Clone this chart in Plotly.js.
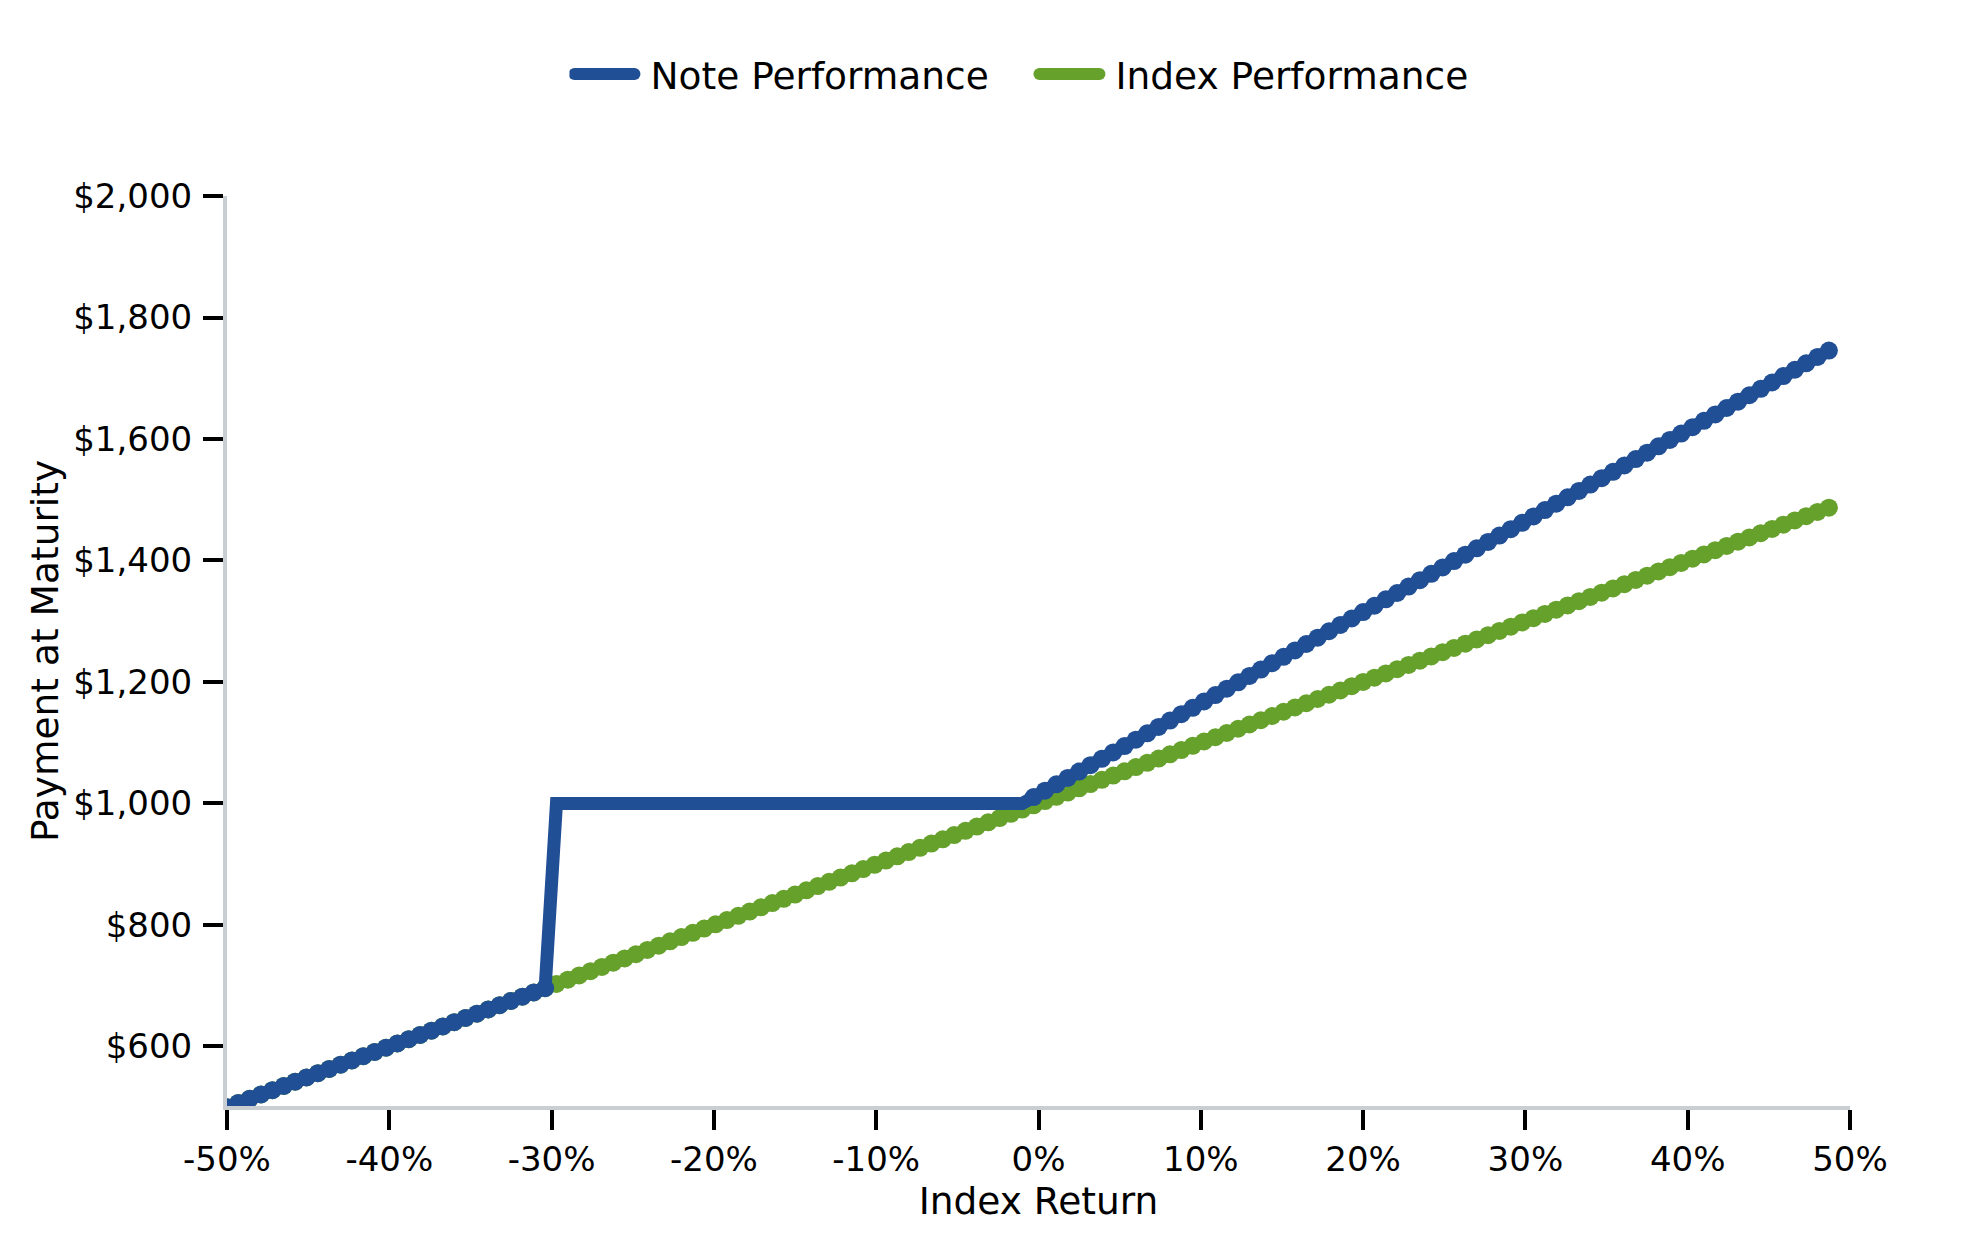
<!DOCTYPE html>
<html>
<head>
<meta charset="utf-8">
<script src="https://cdn.plot.ly/plotly-3.0.1.min.js"></script>
<style>
  html, body { margin: 0; padding: 0; background: #ffffff; }
  #chart { width: 1979px; height: 1250px; }
  .legendlines path { stroke-linecap: round; stroke-width: 12px !important; }
  .legendtext { transform: translateX(11px); }
</style>
</head>
<body>
<div id="chart"></div>
<script>
  // ---------- Data ----------
  // index return grid shared by both series, in %
  const indexReturn = [
    -50, -49.3, -48.6, -47.9, -47.2, -46.5, -45.8, -45.1, -44.4, -43.7,
    -43, -42.3, -41.6, -40.9, -40.2, -39.5, -38.8, -38.1, -37.4, -36.7,
    -36, -35.3, -34.6, -33.9, -33.2, -32.5, -31.8, -31.1, -30.4, -29.7,
    -29, -28.3, -27.6, -26.9, -26.2, -25.5, -24.8, -24.1, -23.4, -22.7,
    -22, -21.3, -20.6, -19.9, -19.2, -18.5, -17.8, -17.1, -16.4, -15.7,
    -15, -14.3, -13.6, -12.9, -12.2, -11.5, -10.8, -10.1, -9.4, -8.7,
    -8, -7.3, -6.6, -5.9, -5.2, -4.5, -3.8, -3.1, -2.4, -1.7,
    -1, -0.3, 0.4, 1.1, 1.8, 2.5, 3.2, 3.9, 4.6, 5.3,
    6, 6.7, 7.4, 8.1, 8.8, 9.5, 10.2, 10.9, 11.6, 12.3,
    13, 13.7, 14.4, 15.1, 15.8, 16.5, 17.2, 17.9, 18.6, 19.3,
    20, 20.7, 21.4, 22.1, 22.8, 23.5, 24.2, 24.9, 25.6, 26.3,
    27, 27.7, 28.4, 29.1, 29.8, 30.5, 31.2, 31.9, 32.6, 33.3,
    34, 34.7, 35.4, 36.1, 36.8, 37.5, 38.2, 38.9, 39.6, 40.3,
    41, 41.7, 42.4, 43.1, 43.8, 44.5, 45.2, 45.9, 46.6, 47.3,
    48, 48.7
  ];
  const indexPayment = [
    500, 507, 514, 521, 528, 535, 542, 549, 556, 563,
    570, 577, 584, 591, 598, 605, 612, 619, 626, 633,
    640, 647, 654, 661, 668, 675, 682, 689, 696, 703,
    710, 717, 724, 731, 738, 745, 752, 759, 766, 773,
    780, 787, 794, 801, 808, 815, 822, 829, 836, 843,
    850, 857, 864, 871, 878, 885, 892, 899, 906, 913,
    920, 927, 934, 941, 948, 955, 962, 969, 976, 983,
    990, 997, 1004, 1011, 1018, 1025, 1032, 1039, 1046, 1053,
    1060, 1067, 1074, 1081, 1088, 1095, 1102, 1109, 1116, 1123,
    1130, 1137, 1144, 1151, 1158, 1165, 1172, 1179, 1186, 1193,
    1200, 1207, 1214, 1221, 1228, 1235, 1242, 1249, 1256, 1263,
    1270, 1277, 1284, 1291, 1298, 1305, 1312, 1319, 1326, 1333,
    1340, 1347, 1354, 1361, 1368, 1375, 1382, 1389, 1396, 1403,
    1410, 1417, 1424, 1431, 1438, 1445, 1452, 1459, 1466, 1473,
    1480, 1487
  ];
  const notePayment = [
    500, 507, 514, 521, 528, 535, 542, 549, 556, 563,
    570, 577, 584, 591, 598, 605, 612, 619, 626, 633,
    640, 647, 654, 661, 668, 675, 682, 689, 696, 1000,
    1000, 1000, 1000, 1000, 1000, 1000, 1000, 1000, 1000, 1000,
    1000, 1000, 1000, 1000, 1000, 1000, 1000, 1000, 1000, 1000,
    1000, 1000, 1000, 1000, 1000, 1000, 1000, 1000, 1000, 1000,
    1000, 1000, 1000, 1000, 1000, 1000, 1000, 1000, 1000, 1000,
    1000, 1010.5, 1021, 1031.5, 1042, 1052.5, 1063, 1073.5, 1084, 1094.5,
    1105, 1115.5, 1126, 1136.5, 1147, 1157.5, 1168, 1178.5, 1189, 1199.5,
    1210, 1220.5, 1231, 1241.5, 1252, 1262.5, 1273, 1283.5, 1294, 1304.5,
    1315, 1325.5, 1336, 1346.5, 1357, 1367.5, 1378, 1388.5, 1399, 1409.5,
    1420, 1430.5, 1441, 1451.5, 1462, 1472.5, 1483, 1493.5, 1504, 1514.5,
    1525, 1535.5, 1546, 1556.5, 1567, 1577.5, 1588, 1598.5, 1609, 1619.5,
    1630, 1640.5, 1651, 1661.5, 1672, 1682.5, 1693, 1703.5, 1714, 1724.5,
    1735, 1745.5
  ];
  const flatLevel = 1000; // protected principal: the flat stretch carries no dots

  const xTickVals = [-50, -40, -30, -20, -10, 0, 10, 20, 30, 40, 50];
  const xTickText = ["-50%", "-40%", "-30%", "-20%", "-10%", "0%", "10%", "20%", "30%", "40%", "50%"];
  const yTickVals = [600, 800, 1000, 1200, 1400, 1600, 1800, 2000];
  const yTickText = ["$600", "$800", "$1,000", "$1,200", "$1,400", "$1,600", "$1,800", "$2,000"];

  // ---------- Style ----------
  const C = {
    note: "#214f95",
    index: "#65a12b",
    axis: "#c9ced3",
    text: "#000000",
  };
  const FONT = "DejaVu Sans, Verdana, sans-serif";

  // dotted look: markers only where the note moves with the index
  const isFlat = (x, y) => y === flatLevel && x < 0;
  const noteDotX = indexReturn.filter((x, i) => !isFlat(x, notePayment[i]));
  const noteDotY = notePayment.filter((y, i) => !isFlat(indexReturn[i], y));

  const traces = [
    {
      x: indexReturn, y: indexPayment,
      type: "scatter", mode: "lines",
      name: "Index Performance",
      line: { color: C.index, width: 13 },
      legendrank: 2,
    },
    {
      x: indexReturn, y: indexPayment,
      type: "scatter", mode: "markers",
      showlegend: false,
      marker: { color: C.index, size: 18 },
    },
    {
      x: indexReturn, y: notePayment,
      type: "scatter", mode: "lines",
      name: "Note Performance",
      line: { color: C.note, width: 13 },
      legendrank: 1,
    },
    {
      x: noteDotX, y: noteDotY,
      type: "scatter", mode: "markers",
      showlegend: false,
      marker: { color: C.note, size: 18 },
    },
  ];

  const axisCommon = {
    showline: true,
    linecolor: C.axis,
    linewidth: 4,
    showgrid: false,
    zeroline: false,
    ticks: "outside",
    ticklen: 20,
    tickwidth: 4,
    tickcolor: "#000000",
    tickfont: { family: FONT, size: 34, color: C.text },
  };

  const layout = {
    width: 1979,
    height: 1250,
    paper_bgcolor: "#ffffff",
    plot_bgcolor: "#ffffff",
    font: { family: FONT, color: C.text },
    margin: { l: 227, r: 129, t: 196, b: 144 },
    showlegend: true,
    legend: {
      orientation: "h",
      x: 0.211, xanchor: "left",
      y: 1.134, yanchor: "middle",
      font: { family: FONT, size: 37.5, color: C.text },
      itemwidth: 60,
      entrywidth: 390,
      traceorder: "normal",
    },
    xaxis: Object.assign({}, axisCommon, {
      range: [-50, 50],
      tickmode: "array",
      tickvals: xTickVals,
      ticktext: xTickText,
      title: { text: "Index Return", font: { family: FONT, size: 37.5, color: C.text }, standoff: 10 },
    }),
    yaxis: Object.assign({}, axisCommon, {
      range: [502, 2000],
      tickmode: "array",
      tickvals: yTickVals,
      ticktext: yTickText,
      ticklabelstandoff: 4,
      title: { text: "Payment at Maturity", font: { family: FONT, size: 37.5, color: C.text }, standoff: 4 },
    }),
  };

  Plotly.newPlot("chart", traces, layout, { displayModeBar: false, staticPlot: true });
</script>
</body>
</html>
